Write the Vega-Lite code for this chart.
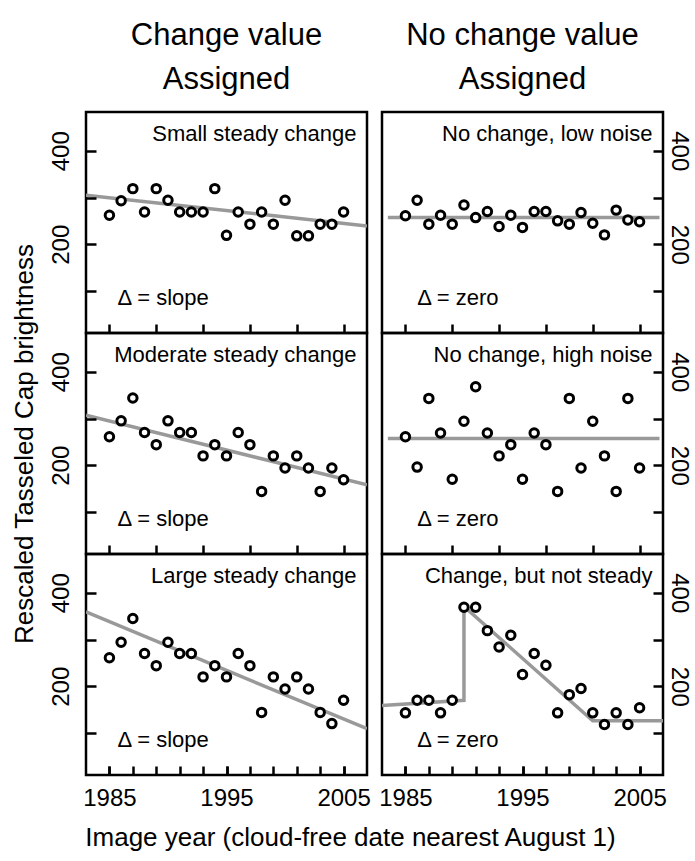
{
  "$schema": "https://vega.github.io/schema/vega-lite/v6.json",
  "background": "white",
  "padding": {"left": 9, "top": 18, "right": 5, "bottom": 10},
  "datasets": {
    "pts": [
      {"panel":"a","year":1985,"value":262},{"panel":"a","year":1986,"value":293},{"panel":"a","year":1987,"value":319},{"panel":"a","year":1988,"value":269},{"panel":"a","year":1989,"value":319},{"panel":"a","year":1990,"value":294},{"panel":"a","year":1991,"value":269},{"panel":"a","year":1992,"value":269},{"panel":"a","year":1993,"value":269},{"panel":"a","year":1994,"value":319},{"panel":"a","year":1995,"value":219},{"panel":"a","year":1996,"value":269},{"panel":"a","year":1997,"value":243},{"panel":"a","year":1998,"value":269},{"panel":"a","year":1999,"value":243},{"panel":"a","year":2000,"value":294},{"panel":"a","year":2001,"value":218},{"panel":"a","year":2002,"value":218},{"panel":"a","year":2003,"value":243},{"panel":"a","year":2004,"value":243},{"panel":"a","year":2005,"value":269},
      {"panel":"b","year":1985,"value":261},{"panel":"b","year":1986,"value":294},{"panel":"b","year":1987,"value":243},{"panel":"b","year":1988,"value":262},{"panel":"b","year":1989,"value":243},{"panel":"b","year":1990,"value":284},{"panel":"b","year":1991,"value":257},{"panel":"b","year":1992,"value":270},{"panel":"b","year":1993,"value":238},{"panel":"b","year":1994,"value":262},{"panel":"b","year":1995,"value":236},{"panel":"b","year":1996,"value":270},{"panel":"b","year":1997,"value":270},{"panel":"b","year":1998,"value":250},{"panel":"b","year":1999,"value":243},{"panel":"b","year":2000,"value":268},{"panel":"b","year":2001,"value":245},{"panel":"b","year":2002,"value":220},{"panel":"b","year":2003,"value":273},{"panel":"b","year":2004,"value":252},{"panel":"b","year":2005,"value":248},
      {"panel":"c","year":1985,"value":261},{"panel":"c","year":1986,"value":295},{"panel":"c","year":1987,"value":344},{"panel":"c","year":1988,"value":270},{"panel":"c","year":1989,"value":244},{"panel":"c","year":1990,"value":295},{"panel":"c","year":1991,"value":270},{"panel":"c","year":1992,"value":270},{"panel":"c","year":1993,"value":220},{"panel":"c","year":1994,"value":244},{"panel":"c","year":1995,"value":220},{"panel":"c","year":1996,"value":270},{"panel":"c","year":1997,"value":244},{"panel":"c","year":1998,"value":144},{"panel":"c","year":1999,"value":220},{"panel":"c","year":2000,"value":194},{"panel":"c","year":2001,"value":220},{"panel":"c","year":2002,"value":194},{"panel":"c","year":2003,"value":144},{"panel":"c","year":2004,"value":194},{"panel":"c","year":2005,"value":169},
      {"panel":"d","year":1985,"value":261},{"panel":"d","year":1986,"value":196},{"panel":"d","year":1987,"value":343},{"panel":"d","year":1988,"value":269},{"panel":"d","year":1989,"value":170},{"panel":"d","year":1990,"value":294},{"panel":"d","year":1991,"value":368},{"panel":"d","year":1992,"value":269},{"panel":"d","year":1993,"value":220},{"panel":"d","year":1994,"value":244},{"panel":"d","year":1995,"value":170},{"panel":"d","year":1996,"value":269},{"panel":"d","year":1997,"value":244},{"panel":"d","year":1998,"value":144},{"panel":"d","year":1999,"value":343},{"panel":"d","year":2000,"value":194},{"panel":"d","year":2001,"value":294},{"panel":"d","year":2002,"value":220},{"panel":"d","year":2003,"value":144},{"panel":"d","year":2004,"value":343},{"panel":"d","year":2005,"value":194},
      {"panel":"e","year":1985,"value":261},{"panel":"e","year":1986,"value":294},{"panel":"e","year":1987,"value":345},{"panel":"e","year":1988,"value":270},{"panel":"e","year":1989,"value":244},{"panel":"e","year":1990,"value":294},{"panel":"e","year":1991,"value":270},{"panel":"e","year":1992,"value":270},{"panel":"e","year":1993,"value":220},{"panel":"e","year":1994,"value":244},{"panel":"e","year":1995,"value":220},{"panel":"e","year":1996,"value":270},{"panel":"e","year":1997,"value":244},{"panel":"e","year":1998,"value":144},{"panel":"e","year":1999,"value":220},{"panel":"e","year":2000,"value":194},{"panel":"e","year":2001,"value":220},{"panel":"e","year":2002,"value":194},{"panel":"e","year":2003,"value":144},{"panel":"e","year":2004,"value":120},{"panel":"e","year":2005,"value":170},
      {"panel":"f","year":1985,"value":143},{"panel":"f","year":1986,"value":170},{"panel":"f","year":1987,"value":170},{"panel":"f","year":1988,"value":143},{"panel":"f","year":1989,"value":170},{"panel":"f","year":1990,"value":369},{"panel":"f","year":1991,"value":369},{"panel":"f","year":1992,"value":319},{"panel":"f","year":1993,"value":284},{"panel":"f","year":1994,"value":309},{"panel":"f","year":1995,"value":225},{"panel":"f","year":1996,"value":270},{"panel":"f","year":1997,"value":245},{"panel":"f","year":1998,"value":143},{"panel":"f","year":1999,"value":182},{"panel":"f","year":2000,"value":195},{"panel":"f","year":2001,"value":143},{"panel":"f","year":2002,"value":118},{"panel":"f","year":2003,"value":143},{"panel":"f","year":2004,"value":118},{"panel":"f","year":2005,"value":154}
    ],
    "fits": [
      {"panel":"a","seq":1,"year":1983,"value":305},{"panel":"a","seq":2,"year":2007,"value":239},
      {"panel":"c","seq":1,"year":1983,"value":307},{"panel":"c","seq":2,"year":2007,"value":158},
      {"panel":"e","seq":1,"year":1983,"value":359},{"panel":"e","seq":2,"year":2007,"value":109},
      {"panel":"b","seq":1,"year":1983.5,"value":257},{"panel":"b","seq":2,"year":2006.7,"value":257},
      {"panel":"d","seq":1,"year":1983.5,"value":257},{"panel":"d","seq":2,"year":2006.7,"value":257},
      {"panel":"f","seq":1,"year":1983,"value":159},{"panel":"f","seq":2,"year":1990,"value":170},{"panel":"f","seq":3,"year":1990,"value":371},{"panel":"f","seq":4,"year":2001,"value":126},{"panel":"f","seq":5,"year":2007,"value":126}
    ]
  },
  "title": {"text": "Image year (cloud-free date nearest August 1)", "orient": "bottom", "anchor": "middle", "fontSize": 26, "fontWeight": "normal", "font": "Liberation Sans", "color": "black", "offset": 14},
  "columns": 2,
  "spacing": {"row": 0, "column": 15},
  "bounds": "flush",
  "concat": [
    {
      "width": 281, "height": 221,
      "title": {"text": ["Change value", "Assigned"], "fontSize": 31, "fontWeight": "normal", "font": "Liberation Sans", "lineHeight": 44, "anchor": "middle", "offset": 16, "color": "black"},
      "layer": [
        {"data": {"name": "fits"}, "transform": [{"filter": "datum.panel == 'a'"}], "mark": {"type": "line", "color": "#999999", "strokeWidth": 3.5, "clip": true},
         "encoding": {"x": {"field": "year", "type": "quantitative", "title": null, "scale": {"domain": [1983, 2007], "nice": false, "zero": false}, "axis": {"values": [1985,1987,1989,1991,1993,1995,1997,1999,2001,2003,2005], "labels": false, "ticks": true, "tickSize": 9, "offset": -9, "tickColor": "black", "tickWidth": 2.5, "zindex": 1, "labelOverlap": false, "title": null}},
                      "y": {"field": "value", "type": "quantitative", "title": null, "scale": {"domain": [10, 483], "nice": false, "zero": false}, "axis": {"orient": "left", "values": [100,200,300,400], "labelExpr": "datum.value % 200 == 0 ? datum.label : ''", "ticks": true, "tickSize": 10, "offset": -10, "tickColor": "black", "tickWidth": 2.5, "zindex": 1, "labelOverlap": false, "title": null}},
                      "order": {"field": "seq"}}},
        {"data": {"name": "pts"}, "transform": [{"filter": "datum.panel == 'a'"}], "mark": {"type": "point", "shape": "circle", "filled": true, "fill": "white", "stroke": "black", "strokeWidth": 3, "size": 72, "opacity": 1},
         "encoding": {"x": {"field": "year", "type": "quantitative", "title": null, "scale": {"domain": [1983, 2007], "nice": false, "zero": false}},
                      "y": {"field": "value", "type": "quantitative", "title": null, "scale": {"domain": [10, 483], "nice": false, "zero": false}}}},
        {"data": {"values": [{}]}, "mark": {"type": "text", "align": "right", "baseline": "alphabetic", "fontSize": 22, "font": "Liberation Sans", "color": "black"},
         "encoding": {"x": {"datum": 2006.1, "type": "quantitative", "title": null}, "y": {"datum": 420, "type": "quantitative", "title": null}, "text": {"value": "Small steady change"}}},
        {"data": {"values": [{}]}, "mark": {"type": "text", "align": "left", "baseline": "alphabetic", "fontSize": 22, "font": "Liberation Sans", "color": "black"},
         "encoding": {"x": {"datum": 1985.7, "type": "quantitative", "title": null}, "y": {"datum": 70, "type": "quantitative", "title": null}, "text": {"value": "Δ = slope"}}}
      ]
    },
    {
      "width": 281, "height": 221,
      "title": {"text": ["No change value", "Assigned"], "fontSize": 31, "fontWeight": "normal", "font": "Liberation Sans", "lineHeight": 44, "anchor": "middle", "offset": 16, "color": "black"},
      "layer": [
        {"data": {"name": "fits"}, "transform": [{"filter": "datum.panel == 'b'"}], "mark": {"type": "line", "color": "#999999", "strokeWidth": 3.5, "clip": true},
         "encoding": {"x": {"field": "year", "type": "quantitative", "title": null, "scale": {"domain": [1983, 2007], "nice": false, "zero": false}, "axis": {"values": [1985,1987,1989,1991,1993,1995,1997,1999,2001,2003,2005], "labels": false, "ticks": true, "tickSize": 9, "offset": -9, "tickColor": "black", "tickWidth": 2.5, "zindex": 1, "labelOverlap": false, "title": null}},
                      "y": {"field": "value", "type": "quantitative", "title": null, "scale": {"domain": [10, 483], "nice": false, "zero": false}, "axis": {"orient": "right", "values": [100,200,300,400], "labelExpr": "datum.value % 200 == 0 ? datum.label : ''", "ticks": true, "tickSize": 10, "offset": -10, "tickColor": "black", "tickWidth": 2.5, "zindex": 1, "labelOverlap": false, "title": null}},
                      "order": {"field": "seq"}}},
        {"data": {"name": "pts"}, "transform": [{"filter": "datum.panel == 'b'"}], "mark": {"type": "point", "shape": "circle", "filled": true, "fill": "white", "stroke": "black", "strokeWidth": 3, "size": 72, "opacity": 1},
         "encoding": {"x": {"field": "year", "type": "quantitative", "title": null, "scale": {"domain": [1983, 2007], "nice": false, "zero": false}},
                      "y": {"field": "value", "type": "quantitative", "title": null, "scale": {"domain": [10, 483], "nice": false, "zero": false}}}},
        {"data": {"values": [{}]}, "mark": {"type": "text", "align": "right", "baseline": "alphabetic", "fontSize": 22, "font": "Liberation Sans", "color": "black"},
         "encoding": {"x": {"datum": 2006.1, "type": "quantitative", "title": null}, "y": {"datum": 420, "type": "quantitative", "title": null}, "text": {"value": "No change, low noise"}}},
        {"data": {"values": [{}]}, "mark": {"type": "text", "align": "left", "baseline": "alphabetic", "fontSize": 22, "font": "Liberation Sans", "color": "black"},
         "encoding": {"x": {"datum": 1986.0, "type": "quantitative", "title": null}, "y": {"datum": 70, "type": "quantitative", "title": null}, "text": {"value": "Δ = zero"}}}
      ]
    },
    {
      "width": 281, "height": 221,
      "layer": [
        {"data": {"name": "fits"}, "transform": [{"filter": "datum.panel == 'c'"}], "mark": {"type": "line", "color": "#999999", "strokeWidth": 3.5, "clip": true},
         "encoding": {"x": {"field": "year", "type": "quantitative", "title": null, "scale": {"domain": [1983, 2007], "nice": false, "zero": false}, "axis": {"values": [1985,1987,1989,1991,1993,1995,1997,1999,2001,2003,2005], "labels": false, "ticks": true, "tickSize": 9, "offset": -9, "tickColor": "black", "tickWidth": 2.5, "zindex": 1, "labelOverlap": false, "title": null}},
                      "y": {"field": "value", "type": "quantitative", "title": "Rescaled Tasseled Cap brightness", "scale": {"domain": [10, 483], "nice": false, "zero": false}, "axis": {"orient": "left", "values": [100,200,300,400], "labelExpr": "datum.value % 200 == 0 ? datum.label : ''", "ticks": true, "tickSize": 10, "offset": -10, "tickColor": "black", "tickWidth": 2.5, "zindex": 1, "labelOverlap": false, "title": "Rescaled Tasseled Cap brightness"}},
                      "order": {"field": "seq"}}},
        {"data": {"name": "pts"}, "transform": [{"filter": "datum.panel == 'c'"}], "mark": {"type": "point", "shape": "circle", "filled": true, "fill": "white", "stroke": "black", "strokeWidth": 3, "size": 72, "opacity": 1},
         "encoding": {"x": {"field": "year", "type": "quantitative", "title": null, "scale": {"domain": [1983, 2007], "nice": false, "zero": false}},
                      "y": {"field": "value", "type": "quantitative", "title": "Rescaled Tasseled Cap brightness", "scale": {"domain": [10, 483], "nice": false, "zero": false}}}},
        {"data": {"values": [{}]}, "mark": {"type": "text", "align": "right", "baseline": "alphabetic", "fontSize": 22, "font": "Liberation Sans", "color": "black"},
         "encoding": {"x": {"datum": 2006.1, "type": "quantitative", "title": null}, "y": {"datum": 420, "type": "quantitative", "title": "Rescaled Tasseled Cap brightness"}, "text": {"value": "Moderate steady change"}}},
        {"data": {"values": [{}]}, "mark": {"type": "text", "align": "left", "baseline": "alphabetic", "fontSize": 22, "font": "Liberation Sans", "color": "black"},
         "encoding": {"x": {"datum": 1985.7, "type": "quantitative", "title": null}, "y": {"datum": 70, "type": "quantitative", "title": "Rescaled Tasseled Cap brightness"}, "text": {"value": "Δ = slope"}}}
      ]
    },
    {
      "width": 281, "height": 221,
      "layer": [
        {"data": {"name": "fits"}, "transform": [{"filter": "datum.panel == 'd'"}], "mark": {"type": "line", "color": "#999999", "strokeWidth": 3.5, "clip": true},
         "encoding": {"x": {"field": "year", "type": "quantitative", "title": null, "scale": {"domain": [1983, 2007], "nice": false, "zero": false}, "axis": {"values": [1985,1987,1989,1991,1993,1995,1997,1999,2001,2003,2005], "labels": false, "ticks": true, "tickSize": 9, "offset": -9, "tickColor": "black", "tickWidth": 2.5, "zindex": 1, "labelOverlap": false, "title": null}},
                      "y": {"field": "value", "type": "quantitative", "title": null, "scale": {"domain": [10, 483], "nice": false, "zero": false}, "axis": {"orient": "right", "values": [100,200,300,400], "labelExpr": "datum.value % 200 == 0 ? datum.label : ''", "ticks": true, "tickSize": 10, "offset": -10, "tickColor": "black", "tickWidth": 2.5, "zindex": 1, "labelOverlap": false, "title": null}},
                      "order": {"field": "seq"}}},
        {"data": {"name": "pts"}, "transform": [{"filter": "datum.panel == 'd'"}], "mark": {"type": "point", "shape": "circle", "filled": true, "fill": "white", "stroke": "black", "strokeWidth": 3, "size": 72, "opacity": 1},
         "encoding": {"x": {"field": "year", "type": "quantitative", "title": null, "scale": {"domain": [1983, 2007], "nice": false, "zero": false}},
                      "y": {"field": "value", "type": "quantitative", "title": null, "scale": {"domain": [10, 483], "nice": false, "zero": false}}}},
        {"data": {"values": [{}]}, "mark": {"type": "text", "align": "right", "baseline": "alphabetic", "fontSize": 22, "font": "Liberation Sans", "color": "black"},
         "encoding": {"x": {"datum": 2006.1, "type": "quantitative", "title": null}, "y": {"datum": 420, "type": "quantitative", "title": null}, "text": {"value": "No change, high noise"}}},
        {"data": {"values": [{}]}, "mark": {"type": "text", "align": "left", "baseline": "alphabetic", "fontSize": 22, "font": "Liberation Sans", "color": "black"},
         "encoding": {"x": {"datum": 1986.0, "type": "quantitative", "title": null}, "y": {"datum": 70, "type": "quantitative", "title": null}, "text": {"value": "Δ = zero"}}}
      ]
    },
    {
      "width": 281, "height": 221,
      "resolve": {"axis": {"x": "independent"}},
      "layer": [
        {"data": {"name": "fits"}, "transform": [{"filter": "datum.panel == 'e'"}], "mark": {"type": "line", "color": "#999999", "strokeWidth": 3.5, "clip": true},
         "encoding": {"x": {"field": "year", "type": "quantitative", "title": null, "scale": {"domain": [1983, 2007], "nice": false, "zero": false}, "axis": {"orient": "bottom", "values": [1985,1987,1989,1991,1993,1995,1997,1999,2001,2003,2005], "labels": false, "ticks": true, "tickSize": 9, "offset": -9, "tickColor": "black", "tickWidth": 2.5, "zindex": 1, "labelOverlap": false, "title": null}},
                      "y": {"field": "value", "type": "quantitative", "title": null, "scale": {"domain": [10, 483], "nice": false, "zero": false}, "axis": {"orient": "left", "values": [100,200,300,400], "labelExpr": "datum.value % 200 == 0 ? datum.label : ''", "ticks": true, "tickSize": 10, "offset": -10, "tickColor": "black", "tickWidth": 2.5, "zindex": 1, "labelOverlap": false, "title": null}},
                      "order": {"field": "seq"}}},
        {"data": {"name": "pts"}, "transform": [{"filter": "datum.panel == 'e'"}], "mark": {"type": "point", "shape": "circle", "filled": true, "fill": "white", "stroke": "black", "strokeWidth": 3, "size": 72, "opacity": 1},
         "encoding": {"x": {"field": "year", "type": "quantitative", "title": null, "scale": {"domain": [1983, 2007], "nice": false, "zero": false}, "axis": {"orient": "bottom", "values": [1985,1995,2005], "labels": true, "format": "d", "ticks": true, "tickSize": 9, "offset": -9, "tickColor": "black", "tickWidth": 2.5, "zindex": 1, "labelOverlap": false, "title": null}},
                      "y": {"field": "value", "type": "quantitative", "title": null, "scale": {"domain": [10, 483], "nice": false, "zero": false}}}},
        {"data": {"values": [{}]}, "mark": {"type": "text", "align": "right", "baseline": "alphabetic", "fontSize": 22, "font": "Liberation Sans", "color": "black"},
         "encoding": {"x": {"datum": 2006.1, "type": "quantitative", "title": null, "axis": null}, "y": {"datum": 420, "type": "quantitative", "title": null}, "text": {"value": "Large steady change"}}},
        {"data": {"values": [{}]}, "mark": {"type": "text", "align": "left", "baseline": "alphabetic", "fontSize": 22, "font": "Liberation Sans", "color": "black"},
         "encoding": {"x": {"datum": 1985.7, "type": "quantitative", "title": null, "axis": null}, "y": {"datum": 70, "type": "quantitative", "title": null}, "text": {"value": "Δ = slope"}}}
      ]
    },
    {
      "width": 281, "height": 221,
      "resolve": {"axis": {"x": "independent"}},
      "layer": [
        {"data": {"name": "fits"}, "transform": [{"filter": "datum.panel == 'f'"}], "mark": {"type": "line", "color": "#999999", "strokeWidth": 3.5, "clip": true},
         "encoding": {"x": {"field": "year", "type": "quantitative", "title": null, "scale": {"domain": [1983, 2007], "nice": false, "zero": false}, "axis": {"orient": "bottom", "values": [1985,1987,1989,1991,1993,1995,1997,1999,2001,2003,2005], "labels": false, "ticks": true, "tickSize": 9, "offset": -9, "tickColor": "black", "tickWidth": 2.5, "zindex": 1, "labelOverlap": false, "title": null}},
                      "y": {"field": "value", "type": "quantitative", "title": null, "scale": {"domain": [10, 483], "nice": false, "zero": false}, "axis": {"orient": "right", "values": [100,200,300,400], "labelExpr": "datum.value % 200 == 0 ? datum.label : ''", "ticks": true, "tickSize": 10, "offset": -10, "tickColor": "black", "tickWidth": 2.5, "zindex": 1, "labelOverlap": false, "title": null}},
                      "order": {"field": "seq"}}},
        {"data": {"name": "pts"}, "transform": [{"filter": "datum.panel == 'f'"}], "mark": {"type": "point", "shape": "circle", "filled": true, "fill": "white", "stroke": "black", "strokeWidth": 3, "size": 72, "opacity": 1},
         "encoding": {"x": {"field": "year", "type": "quantitative", "title": null, "scale": {"domain": [1983, 2007], "nice": false, "zero": false}, "axis": {"orient": "bottom", "values": [1985,1995,2005], "labels": true, "format": "d", "ticks": true, "tickSize": 9, "offset": -9, "tickColor": "black", "tickWidth": 2.5, "zindex": 1, "labelOverlap": false, "title": null}},
                      "y": {"field": "value", "type": "quantitative", "title": null, "scale": {"domain": [10, 483], "nice": false, "zero": false}}}},
        {"data": {"values": [{}]}, "mark": {"type": "text", "align": "right", "baseline": "alphabetic", "fontSize": 22, "font": "Liberation Sans", "color": "black"},
         "encoding": {"x": {"datum": 2006.1, "type": "quantitative", "title": null, "axis": null}, "y": {"datum": 420, "type": "quantitative", "title": null}, "text": {"value": "Change, but not steady"}}},
        {"data": {"values": [{}]}, "mark": {"type": "text", "align": "left", "baseline": "alphabetic", "fontSize": 22, "font": "Liberation Sans", "color": "black"},
         "encoding": {"x": {"datum": 1986.0, "type": "quantitative", "title": null, "axis": null}, "y": {"datum": 70, "type": "quantitative", "title": null}, "text": {"value": "Δ = zero"}}}
      ]
    }
  ],
  "config": {
    "font": "Liberation Sans",
    "view": {"stroke": "black", "strokeWidth": 2.5},
    "axis": {"domain": false, "grid": false, "ticks": true, "tickColor": "black", "tickWidth": 2.5, "tickOpacity": 1, "labelFont": "Liberation Sans", "labelFontSize": 24, "labelColor": "black", "labelOverlap": false, "labelFlush": false, "titleFont": "Liberation Sans", "titleFontSize": 26, "titleFontWeight": "normal", "titleColor": "black"},
    "axisX": {"labelPadding": 11, "labelBaseline": "top"},
    "axisLeft": {"labelAngle": 270, "labelAlign": "center", "labelBaseline": "alphabetic", "labelPadding": 18, "titlePadding": 12},
    "axisRight": {"labelAngle": 90, "labelAlign": "center", "labelBaseline": "alphabetic", "labelPadding": 8}
  }
}
